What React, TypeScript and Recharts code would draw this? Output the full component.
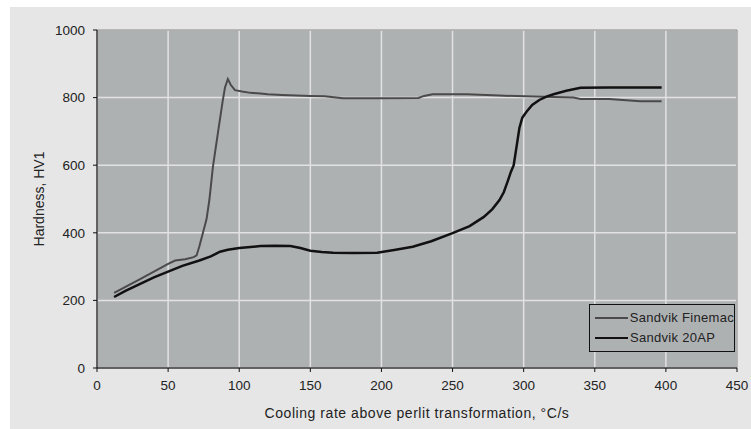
import React from "react";
import { LineChart, Line, XAxis, YAxis, CartesianGrid, ReferenceArea } from "recharts";

const xTicks = [0, 50, 100, 150, 200, 250, 300, 350, 400, 450];
const yTicks = [0, 200, 400, 600, 800, 1000];

const finemacX = [12, 20, 30, 40, 50, 55, 62, 68, 70, 72, 75, 77, 79, 81.5, 85, 88.5, 90, 92, 94, 97, 102, 108, 115, 120, 130, 150, 160, 173, 200, 226, 230, 236, 260, 283, 307, 335, 340, 360, 382, 397];
const finemacY = [222, 240, 262, 285, 308, 318, 322, 328, 333, 360, 408, 440, 497, 595, 695, 793, 830, 855, 838, 822, 818, 814, 812, 810, 808, 805, 804, 798, 798, 799, 805, 810, 810, 806, 803, 800, 796, 796, 789, 789];

const ap20X = [12, 20, 30, 40, 50, 60, 72, 80, 86.5, 92, 100, 108, 115, 125, 136, 143, 150, 158, 166, 180, 197, 210, 222, 235, 250, 262, 272, 278, 283, 286, 289, 291, 293, 295, 297, 299, 302, 306, 311, 316, 321, 330, 340, 360, 380, 397];
const ap20Y = [210, 228, 248, 268, 285, 302, 318, 330, 344, 350, 355, 358, 361, 362, 361, 355, 347, 343, 341, 340, 341, 350, 359, 375, 399, 420, 447, 470, 497, 520, 555, 580, 600, 655, 710, 740, 758, 778, 793, 803, 810, 820, 829, 830, 830, 830];

const seriesNames = ["Sandvik Finemac", "Sandvik 20AP"];

const finemacData = finemacX.map((x, i) => ({ x, y: finemacY[i] }));
const ap20Data = ap20X.map((x, i) => ({ x, y: ap20Y[i] }));

const FONT = "Arial, 'Liberation Sans', sans-serif";

const LegendBox = () => (
  <div
    style={{
      position: "absolute",
      left: 589,
      top: 304,
      width: 146,
      height: 48,
      border: "1.5px solid #111",
      background: "#aeb1b2",
      padding: "3px 0 0 5px",
      fontFamily: FONT,
      fontSize: 13,
      letterSpacing: 0.3,
      color: "#222",
      boxSizing: "border-box",
      lineHeight: "20px",
      whiteSpace: "nowrap",
    }}
  >
    <div style={{ display: "flex", alignItems: "center" }}>
      <span style={{ display: "inline-block", width: 33, height: 2, background: "#4a4a4a", marginRight: 2 }} />
      {seriesNames[0]}
    </div>
    <div style={{ display: "flex", alignItems: "center" }}>
      <span style={{ display: "inline-block", width: 33, height: 2.5, background: "#111", marginRight: 2 }} />
      {seriesNames[1]}
    </div>
  </div>
);

export default function App() {
  return (
    <div style={{ position: "absolute", left: 0, top: 0, width: 751, height: 429, background: "#ffffff", overflow: "hidden" }}>
      <div style={{ position: "absolute", left: 10, top: 7, width: 741, height: 422, background: "#e6e6e6" }} />
      <div style={{ position: "absolute", left: 0, top: 0 }}>
        <LineChart width={751} height={429} margin={{ top: 30, right: 14, bottom: 31, left: 57 }}>
          <CartesianGrid fill="#aeb1b2" stroke="#e2e2e2" strokeWidth={1.5} />
          <ReferenceArea x1={0} x2={450} y1={0} y2={1000} fill="none" stroke="#8a8a8a" strokeWidth={1} ifOverflow="visible" />
          <XAxis
            type="number"
            dataKey="x"
            domain={[0, 450]}
            ticks={xTicks}
            allowDataOverflow
            height={30}
            stroke="#111"
            tickLine={{ stroke: "#111" }}
            tickSize={4}
            tickMargin={8}
            tick={{ fill: "#222", fontSize: 13.5, fontFamily: FONT }}
            label={{ value: "Cooling rate above perlit transformation, °C/s", position: "insideBottom", offset: -20, fill: "#222", fontSize: 14, fontFamily: FONT, letterSpacing: 0.55 }}
          />
          <YAxis
            type="number"
            domain={[0, 1000]}
            ticks={yTicks}
            width={40}
            stroke="#111"
            tickLine={{ stroke: "#111" }}
            tickSize={4}
            tickMargin={8}
            tick={{ fill: "#222", fontSize: 13.5, fontFamily: FONT }}
            label={{ value: "Hardness, HV1", angle: -90, position: "insideLeft", offset: 0, dx: -18, style: { textAnchor: "middle" }, fill: "#222", fontSize: 14, fontFamily: FONT }}
          />
          <Line data={finemacData} dataKey="y" name={seriesNames[0]} type="linear" stroke="#4a4a4a" strokeWidth={2} dot={false} isAnimationActive={false} />
          <Line data={ap20Data} dataKey="y" name={seriesNames[1]} type="linear" stroke="#111" strokeWidth={2.5} dot={false} isAnimationActive={false} />
        </LineChart>
      </div>
      <LegendBox />
    </div>
  );
}
